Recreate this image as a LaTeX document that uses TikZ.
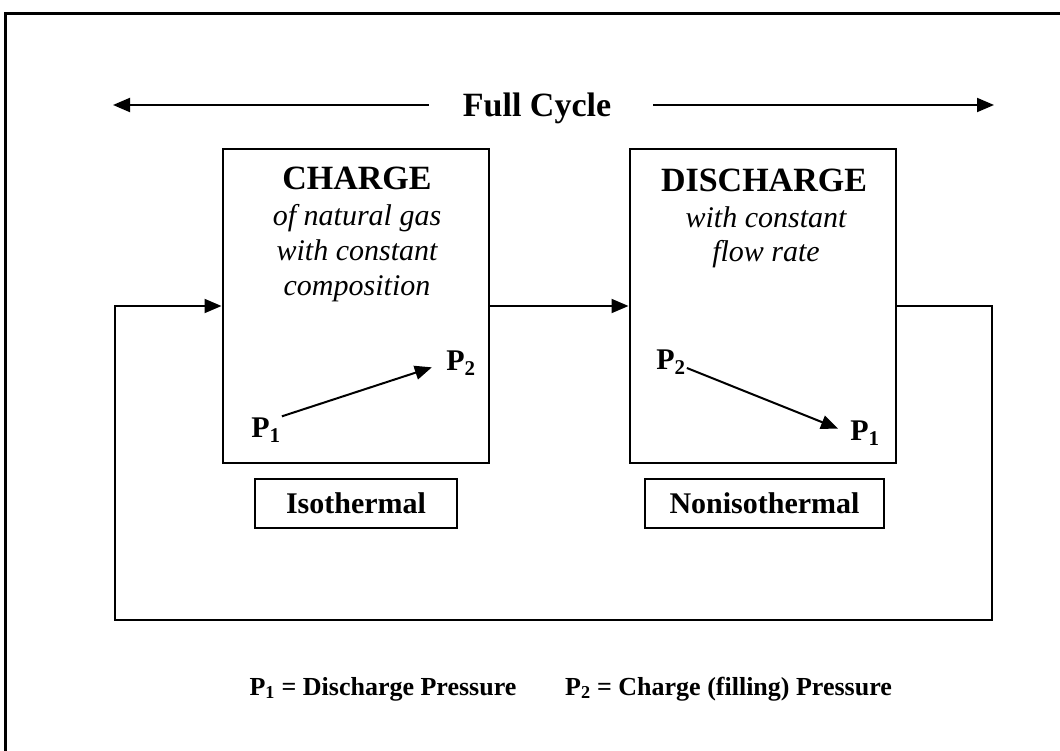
\documentclass[tikz,border=0pt]{standalone}
\usepackage{fontspec}
\setmainfont{Liberation Serif}
\usetikzlibrary{arrows.meta, positioning}
\tikzset{
    stagebox/.style={rectangle, draw, line width=2pt, minimum width=266pt, minimum height=314pt, inner sep=0pt},
    modebox/.style={rectangle, draw, line width=2pt, minimum height=49pt, inner sep=0pt, font=\bfseries\fontsize{30}{34}\selectfont},
    flow/.style={draw, line width=2pt, -{Triangle[length=17pt,width=14pt]}},
    stagetitle/.style={font=\bfseries\fontsize{34}{38}\selectfont, anchor=base, inner sep=0pt},
    stagenote/.style={font=\itshape\fontsize{30}{35}\selectfont, align=center, anchor=base, inner sep=0pt},
    plabel/.style={font=\bfseries\fontsize{30}{34}\selectfont, inner sep=1pt},
    legendtext/.style={font=\bfseries\fontsize{26}{30}\selectfont, anchor=base, inner sep=0pt}
}

\begin{document}
\begin{tikzpicture}[x=1pt, y=-1pt]
    \useasboundingbox (0,0) rectangle (1060,751);
    % Page frame
    \draw[line width=3pt] (5,751) -- (5,14) -- (1060,14);

    % Full cycle span
    \node[font=\bfseries\fontsize{34}{38}\selectfont, inner sep=0pt, text depth=0pt] (fullcycle) at (537,105) {Full Cycle};
    \coordinate (cycleleft) at (113,105);
    \coordinate (cycleright) at (994,105);
    \draw[flow] ([xshift=-34pt]fullcycle.west) -- (cycleleft);
    \draw[flow] ([xshift=42pt]fullcycle.east) -- (cycleright);

    % Stages
    \node[stagebox] (charge) at (355.5,306) {};
    \node[stagebox] (discharge) at (762.5,306) {};

    \node[stagetitle] (chargetitle) at (357,190) {CHARGE};
    \node[stagenote] (chargenote) at (357,295) {of natural gas\\with constant\\composition};
    \node[stagetitle] (dischargetitle) at (764,192) {DISCHARGE};
    \node[stagenote] (dischargenote) at (766,262) {with constant\\flow rate};

    % Pressure paths
    \node[plabel] (cp1) at (266,430) {P\textsubscript{1}};
    \node[plabel] (cp2) at (461,363) {P\textsubscript{2}};
    \draw[flow, shorten >=14pt] (cp1.north east) -- (cp2.west);
    \node[plabel] (dp2) at (671,362) {P\textsubscript{2}};
    \node[plabel] (dp1) at (865,433) {P\textsubscript{1}};
    \draw[flow, shorten >=12pt] ([yshift=-6pt]dp2.east) -- (dp1.west);

    % Cycle connectors
    \coordinate (loopNE) at (992,306);
    \coordinate (loopSE) at (992,620);
    \coordinate (loopSW) at (115,620);
    \coordinate (loopNW) at (115,306);
    \draw[flow] (charge.east) -- (discharge.west);
    \draw[flow] (discharge.east) -- (loopNE) -- (loopSE) -- (loopSW) -- (loopNW) -- (charge.west);

    % Modes
    \node[modebox, minimum width=202pt] (iso) at (356,503) {Isothermal};
    \node[modebox, minimum width=239pt] (noniso) at (764.5,503) {Nonisothermal};

    % Legend
    \node[legendtext] (legendone) at (383,695) {P\textsubscript{1} = Discharge Pressure};
    \node[legendtext] (legendtwo) at (728.5,695) {P\textsubscript{2} = Charge (filling) Pressure};
\end{tikzpicture}
\end{document}
